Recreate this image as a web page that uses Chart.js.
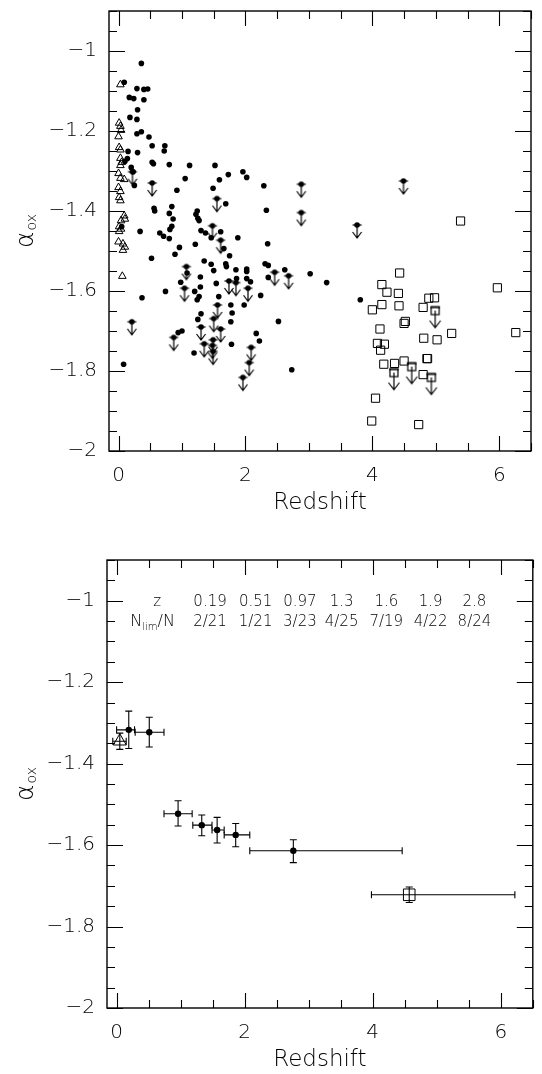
<!DOCTYPE html>
<html><head><meta charset="utf-8">
<script src="https://cdn.jsdelivr.net/npm/chart.js@4.4.1/dist/chart.umd.min.js"></script>
<style>
html,body{margin:0;padding:0;background:#fff;width:542px;height:1074px;overflow:hidden}
.box{position:absolute;left:0;width:542px;height:537px}
</style></head><body>
<div class="box" style="top:0"><canvas id="c1" width="542" height="537"></canvas></div>
<div class="box" style="top:537px"><canvas id="c2" width="542" height="537"></canvas></div>
<script>
// ---------------- DATA ----------------
const xTicks = [0, 2, 4, 6];
const yTicks = [-2, -1.8, -1.6, -1.4, -1.2, -1];
const xTitle = 'Redshift';

// Top panel: detected objects (filled dots)
const dotZ = [0.36,0.09,0.29,0.40,0.46,0.17,0.24,0.40,0.30,0.18,0.29,0.29,0.36,0.48,0.53,0.73,0.72,0.15,0.30,0.14,
0.10,0.53,0.55,0.80,1.12,1.52,1.73,0.20,0.23,0.25,1.05,0.92,1.59,1.49,1.69,0.56,0.57,0.84,0.80,0.86,
1.24,1.22,1.25,1.27,0.05,0.84,0.81,0.34,0.65,0.71,0.80,1.30,1.37,1.61,1.46,1.88,0.96,0.89,1.21,1.66,
1.75,0.52,1.35,1.46,1.50,1.69,1.70,1.85,1.08,1.29,0.98,1.54,0.74,1.20,1.29,1.27,1.24,0.37,1.58,1.77,
1.79,1.30,1.25,1.00,0.94,1.78,1.19,0.08,1.96,2.02,2.29,2.33,2.35,2.31,2.36,2.02,2.02,2.62,3.02,3.28,
1.86,2.02,2.08,2.36,2.24,3.81,1.98,2.52,2.17,2.22,2.73,1.77];
const dotA = [-1.031,-1.078,-1.094,-1.096,-1.095,-1.116,-1.119,-1.122,-1.147,-1.166,-1.171,-1.207,-1.202,-1.215,-1.237,-1.237,-1.250,-1.251,-1.254,-1.269,
-1.276,-1.278,-1.282,-1.284,-1.286,-1.286,-1.309,-1.291,-1.302,-1.336,-1.319,-1.348,-1.322,-1.343,-1.382,-1.393,-1.400,-1.389,-1.406,-1.420,
-1.400,-1.408,-1.418,-1.424,-1.439,-1.438,-1.446,-1.451,-1.455,-1.463,-1.469,-1.449,-1.455,-1.452,-1.467,-1.467,-1.491,-1.508,-1.483,-1.494,
-1.512,-1.518,-1.525,-1.533,-1.549,-1.532,-1.539,-1.547,-1.555,-1.565,-1.578,-1.581,-1.601,-1.601,-1.590,-1.614,-1.622,-1.617,-1.614,-1.635,
-1.655,-1.657,-1.671,-1.700,-1.704,-1.733,-1.755,-1.783,-1.302,-1.316,-1.337,-1.398,-1.482,-1.532,-1.536,-1.545,-1.551,-1.547,-1.557,-1.579,
-1.569,-1.569,-1.577,-1.566,-1.611,-1.622,-1.635,-1.676,-1.706,-1.725,-1.797,-1.677];

// Top panel: upper limits (dot + arrow)
const limZ = [0.22,0.53,1.55,1.48,1.61,1.07,1.74,1.85,1.04,1.56,1.50,0.21,1.30,1.61,0.87,1.49,1.35,1.48,1.49,2.88,
2.88,3.76,2.46,2.68,2.04,2.09,2.06,1.96,4.49];
const limA = [-1.302,-1.330,-1.369,-1.437,-1.473,-1.539,-1.575,-1.579,-1.593,-1.635,-1.669,-1.677,-1.690,-1.695,-1.716,-1.722,-1.732,-1.736,-1.751,-1.333,
-1.404,-1.435,-1.553,-1.562,-1.593,-1.741,-1.779,-1.816,-1.325];

// Top panel: low-z sample (open triangles)
const triZ = [0.03,0.01,0.03,0.04,0.00,0.01,0.03,0.03,0.05,0.03,0.00,0.03,0.09,0.00,0.03,0.01,0.03,0.09,0.10,0.04,
0.01,0.04,0.01,0.00,0.07,0.10,0.07,0.06];
const triA = [-1.084,-1.180,-1.188,-1.198,-1.214,-1.241,-1.247,-1.268,-1.278,-1.286,-1.306,-1.318,-1.321,-1.341,-1.351,-1.366,-1.374,-1.412,-1.420,-1.424,
-1.439,-1.445,-1.451,-1.477,-1.482,-1.490,-1.498,-1.563];

// Top panel: high-z sample (open squares)
const sqZ = [5.39,4.43,4.15,4.23,4.41,4.89,4.98,5.97,4.15,4.00,4.42,4.80,4.52,4.50,4.12,5.25,6.26,4.81,5.02,4.08,
4.19,4.13,4.86,4.87,4.18,4.35,4.50,4.80,4.05,3.99,4.73];
const sqA = [-1.425,-1.555,-1.584,-1.603,-1.606,-1.618,-1.617,-1.592,-1.634,-1.647,-1.637,-1.641,-1.676,-1.681,-1.695,-1.706,-1.704,-1.718,-1.722,-1.731,
-1.733,-1.748,-1.769,-1.769,-1.783,-1.781,-1.775,-1.809,-1.868,-1.925,-1.934];
// high-z upper limits (square + arrow)
const sqLimZ = [4.99,4.62,4.34,4.93];
const sqLimA = [-1.649,-1.789,-1.804,-1.816];

// Bottom panel: binned means
const binZ   = [0.19,0.51,0.96,1.33,1.57,1.86,2.76];
const binA   = [-1.317,-1.323,-1.523,-1.551,-1.563,-1.575,-1.614];
const binZlo = [0.00,0.29,0.74,1.19,1.49,1.68,2.08];
const binZhi = [0.28,0.74,1.18,1.49,1.68,2.08,4.46];
const binAlo = [-1.363,-1.359,-1.553,-1.577,-1.595,-1.604,-1.643];
const binAhi = [-1.271,-1.286,-1.491,-1.526,-1.532,-1.547,-1.587];
// low-z sample mean (triangle) and high-z sample mean (square)
const lowZ = [0.05],  lowA = [-1.345],  lowZlo = [-0.06], lowZhi = [0.15], lowAlo = [-1.365], lowAhi = [-1.325];
const hiZ  = [4.57],  hiA  = [-1.722],  hiZlo  = [3.98],  hiZhi  = [6.22], hiAlo  = [-1.741], hiAhi  = [-1.703];

// Bottom panel table
const tableZ   = ['0.19','0.51','0.97','1.3','1.6','1.9','2.8'];
const tableLim = ['2/21','1/21','3/23','4/25','7/19','4/22','8/24'];

// ---------------- STYLE / HELPERS ----------------
const FAM = '"DejaVu Sans", sans-serif';
const pts = (xs, ys) => xs.map((v, i) => ({x: v, y: ys[i]}));

function makeUL(kind) {
  const c = document.createElement('canvas');
  c.width = 24; c.height = 52;
  const g = c.getContext('2d');
  const cx = 12, cy = 26;
  g.strokeStyle = '#000'; g.fillStyle = '#000'; g.lineWidth = 1.2;
  let len, hw, hh;
  if (kind === 'dot') {
    g.beginPath(); g.arc(cx, cy, 2.8, 0, Math.PI * 2); g.fill();
    g.beginPath(); g.moveTo(cx - 4.5, cy); g.lineTo(cx + 4.5, cy); g.stroke();
    len = 13; hw = 4.5; hh = 6;
  } else {
    g.strokeRect(cx - 4, cy - 4, 8, 8);
    g.beginPath(); g.moveTo(cx - 5, cy - 3); g.lineTo(cx + 5, cy - 3); g.stroke();
    len = 17; hw = 5.5; hh = 7;
  }
  g.beginPath();
  g.moveTo(cx, cy); g.lineTo(cx, cy + len);
  g.moveTo(cx - hw, cy + len - hh); g.lineTo(cx, cy + len); g.lineTo(cx + hw, cy + len - hh);
  g.stroke();
  return c;
}

const fmt = v => v === 0 ? '0' : (v < 0 ? '\u2212' : '') + String(Math.abs(Math.round(v * 10) / 10));

const framePlugin = {
  id: 'frame',
  afterDatasetsDraw(chart) {
    const {ctx, chartArea: a, scales: {x, y}} = chart;
    ctx.save();
    ctx.strokeStyle = '#000';
    ctx.lineWidth = 1.4;
    ctx.strokeRect(a.left, a.top, a.right - a.left, a.bottom - a.top);
    ctx.lineWidth = 1.1;
    ctx.beginPath();
    for (let i = Math.ceil(x.min / 0.5); i <= Math.floor(x.max / 0.5); i++) {
      const px = Math.round(x.getPixelForValue(i * 0.5)) + 0.5;
      const L = (i % 4 === 0) ? 15 : 8;
      ctx.moveTo(px, a.bottom); ctx.lineTo(px, a.bottom - L);
      ctx.moveTo(px, a.top); ctx.lineTo(px, a.top + L);
    }
    for (let i = Math.ceil(y.min / 0.05 - 1e-6); i <= Math.floor(y.max / 0.05 + 1e-6); i++) {
      const py = Math.round(y.getPixelForValue(i * 0.05)) + 0.5;
      const L = (i % 4 === 0) ? 16 : 8;
      ctx.moveTo(a.left, py); ctx.lineTo(a.left + L, py);
      ctx.moveTo(a.right, py); ctx.lineTo(a.right - L, py);
    }
    ctx.stroke();
    // axis titles
    ctx.fillStyle = '#000';
    ctx.font = '300 23px ' + FAM;
    ctx.textAlign = 'center'; ctx.textBaseline = 'middle';
    ctx.fillText(xTitle, (a.left + a.right) / 2, a.bottom + 52);
    ctx.translate(26, (a.top + a.bottom) / 2);
    ctx.rotate(-Math.PI / 2);
    ctx.textAlign = 'left'; ctx.textBaseline = 'alphabetic';
    ctx.font = '300 25px ' + FAM;
    const w1 = ctx.measureText('\u03b1').width;
    ctx.font = '300 14px ' + FAM;
    const w2 = ctx.measureText('ox').width;
    const x0 = -(w1 + w2 + 1) / 2;
    ctx.font = '300 25px ' + FAM;
    ctx.fillText('\u03b1', x0, 7);
    ctx.font = '300 14px ' + FAM;
    ctx.fillText('ox', x0 + w1 + 1, 10);
    ctx.restore();
  }
};

function zeroPad(s) { s.paddingTop = 0; s.paddingBottom = 0; s.paddingLeft = 0; s.paddingRight = 0; }

function baseOptions(padTop, padRight, yWidth, xHeight) {
  return {
    responsive: false, animation: false, devicePixelRatio: 1,
    layout: {padding: {top: padTop, right: padRight, left: 0, bottom: 0}},
    plugins: {legend: {display: false}, tooltip: {enabled: false}},
    scales: {
      x: {
        type: 'linear', min: -0.15, max: 6.5,
        grid: {display: false, drawTicks: false}, border: {display: false},
        afterBuildTicks: s => { s.ticks = xTicks.map(v => ({value: v})); },
        afterFit: s => { s.height = xHeight; zeroPad(s); },
        ticks: {padding: 13, color: '#000', font: {family: FAM, size: 20, weight: 300}, callback: v => fmt(v)}
      },
      y: {
        type: 'linear', min: -2, max: -0.9,
        grid: {display: false, drawTicks: false}, border: {display: false},
        afterBuildTicks: s => { s.ticks = yTicks.map(v => ({value: v})); },
        afterFit: s => { s.width = yWidth; zeroPad(s); },
        ticks: {padding: 12, color: '#000', font: {family: FAM, size: 20, weight: 300}, callback: v => fmt(v)}
      }
    }
  };
}

// ---------------- TOP CHART ----------------
new Chart(document.getElementById('c1'), {
  type: 'scatter',
  data: {datasets: [
    {data: pts(dotZ, dotA), pointStyle: 'circle', pointRadius: 2.8, backgroundColor: '#000', borderWidth: 0},
    {data: pts(limZ, limA), pointStyle: makeUL('dot'), pointRadius: 10},
    {data: pts(triZ, triA), pointStyle: 'triangle', pointRadius: 4.4, backgroundColor: 'rgba(0,0,0,0)', borderColor: '#000', borderWidth: 1},
    {data: pts(sqZ, sqA), pointStyle: 'rect', pointRadius: 5.8, backgroundColor: 'rgba(0,0,0,0)', borderColor: '#000', borderWidth: 1},
    {data: pts(sqLimZ, sqLimA), pointStyle: makeUL('sq'), pointRadius: 10}
  ]},
  options: baseOptions(3, 3, 109, 86),
  plugins: [framePlugin]
});

// ---------------- BOTTOM CHART ----------------
const errPlugin = {
  id: 'err',
  beforeDatasetsDraw(chart) {
    const {ctx, scales: {x, y}} = chart;
    const cap = 3.5;
    ctx.save(); ctx.strokeStyle = '#000'; ctx.lineWidth = 1.1;
    const draw = (zs, as, zl, zh, al, ah) => {
      zs.forEach((z, i) => {
        const px = x.getPixelForValue(z), py = y.getPixelForValue(as[i]);
        const xl = x.getPixelForValue(zl[i]), xh = x.getPixelForValue(zh[i]);
        const yl = y.getPixelForValue(al[i]), yh = y.getPixelForValue(ah[i]);
        ctx.beginPath();
        ctx.moveTo(xl, py); ctx.lineTo(xh, py);
        ctx.moveTo(xl, py - cap); ctx.lineTo(xl, py + cap);
        ctx.moveTo(xh, py - cap); ctx.lineTo(xh, py + cap);
        ctx.moveTo(px, yl); ctx.lineTo(px, yh);
        ctx.moveTo(px - cap, yl); ctx.lineTo(px + cap, yl);
        ctx.moveTo(px - cap, yh); ctx.lineTo(px + cap, yh);
        ctx.stroke();
      });
    };
    draw(binZ, binA, binZlo, binZhi, binAlo, binAhi);
    draw(lowZ, lowA, lowZlo, lowZhi, lowAlo, lowAhi);
    draw(hiZ, hiA, hiZlo, hiZhi, hiAlo, hiAhi);
    ctx.restore();
  },
  afterDatasetsDraw(chart) {
    const {ctx, chartArea: a} = chart;
    const W = a.right - a.left;
    const colFrac = [0.242, 0.349, 0.453, 0.551, 0.656, 0.760, 0.863];
    const r1 = a.top + 42, r2 = a.top + 62;
    ctx.save();
    ctx.fillStyle = '#000'; ctx.textBaseline = 'middle'; ctx.textAlign = 'center';
    ctx.font = '300 15px ' + FAM;
    ctx.fillText('z', a.left + 0.118 * W, r1);
    tableZ.forEach((t, i) => ctx.fillText(t, a.left + colFrac[i] * W, r1));
    tableLim.forEach((t, i) => ctx.fillText(t, a.left + colFrac[i] * W, r2));
    // N_lim/N
    const big = '300 16px ' + FAM, small = '300 10px ' + FAM;
    ctx.font = big; const wN = ctx.measureText('N').width; const wS = ctx.measureText('/N').width;
    ctx.font = small; const wL = ctx.measureText('lim').width;
    let sx = a.left + 0.107 * W - (wN + wL + wS) / 2;
    ctx.textAlign = 'left';
    ctx.font = big; ctx.fillText('N', sx, r2); sx += wN;
    ctx.font = small; ctx.fillText('lim', sx, r2 + 5); sx += wL;
    ctx.font = big; ctx.fillText('/N', sx, r2);
    ctx.restore();
  }
};

new Chart(document.getElementById('c2'), {
  type: 'scatter',
  data: {datasets: [
    {data: pts(binZ, binA), pointStyle: 'circle', pointRadius: 3.2, backgroundColor: '#000', borderWidth: 0},
    {data: pts(lowZ, lowA), pointStyle: 'triangle', pointRadius: 7.5, backgroundColor: 'rgba(0,0,0,0)', borderColor: '#000', borderWidth: 1},
    {data: pts(hiZ, hiA), pointStyle: 'rect', pointRadius: 8.2, backgroundColor: 'rgba(0,0,0,0)', borderColor: '#000', borderWidth: 1}
  ]},
  options: baseOptions(23, 5, 107, 66),
  plugins: [errPlugin, framePlugin]
});
</script>
</body></html>
